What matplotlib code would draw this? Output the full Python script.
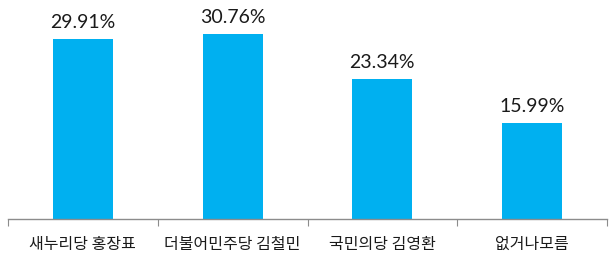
import matplotlib.pyplot as plt

# 데이터
categories = ['새누리당 홍장표', '더불어민주당 김철민', '국민의당 김영환', '없거나모름']
values = [29.91, 30.76, 23.34, 15.99]
value_labels = ['29.91%', '30.76%', '23.34%', '15.99%']

plt.rcParams['font.family'] = ['Noto Sans CJK KR', 'DejaVu Sans']

fig = plt.figure(figsize=(6.12, 2.63), dpi=100)
ax = fig.add_axes([8 / 612, 44 / 263, 599 / 612, 219 / 263])

x = list(range(len(categories)))
ax.bar(x, values, width=0.4, color='#00B0F0')

for xi, v, lab in zip(x, values, value_labels):
    ax.text(xi, v + 1.3, lab, ha='center', va='bottom', fontsize=14,
            family=['Lato', 'DejaVu Sans'], color='#1a1a1a')

ax.set_xlim(-0.5, len(categories) - 0.5)
ax.set_ylim(0, 36.4)

for s in ['top', 'right', 'left']:
    ax.spines[s].set_visible(False)
ax.spines['bottom'].set_color('#8c8c8c')
ax.spines['bottom'].set_linewidth(1.0)

ax.set_yticks([])
ax.set_xticks([i - 0.5 for i in range(len(categories) + 1)], minor=False)
ax.set_xticklabels([])
ax.tick_params(axis='x', which='major', direction='out', length=5, color='#8c8c8c')
ax.set_xticks(x, minor=True)
ax.set_xticklabels(categories, minor=True, fontsize=11.5, color='#1a1a1a')
ax.tick_params(axis='x', which='minor', length=0, pad=12)

fig.savefig('out.png', dpi=100)
